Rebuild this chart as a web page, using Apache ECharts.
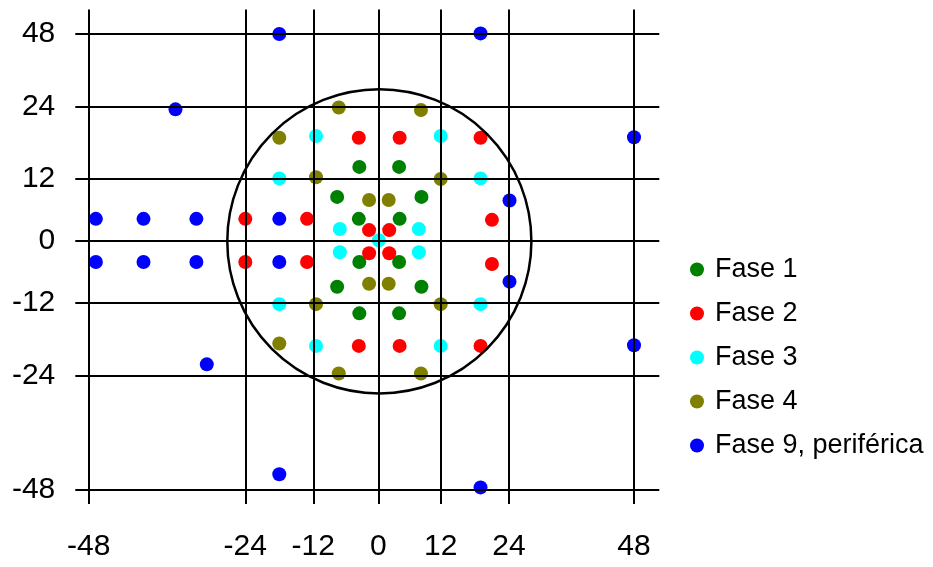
<!DOCTYPE html>
<html>
<head>
<meta charset="utf-8">
<script src="https://cdn.jsdelivr.net/npm/echarts@6/dist/echarts.min.js"></script>
<style>
  html, body { margin: 0; padding: 0; background: #fff; }
  #chart { width: 933px; height: 567px; }
</style>
</head>
<body>
<div id="chart"></div>
<script>
// ---- data (degrees) ----
const xTickLabels = [-48, -24, -12, 0, 12, 24, 48];
const yTickLabels = [-48, -24, -12, 0, 12, 24, 48];
const seriesNames = ['Fase 1', 'Fase 2', 'Fase 3', 'Fase 4', 'Fase 9, periférica'];

const fase1 = [[-3.5,14.0],[4.0,14.0],[-7.6,8.5],[8.3,8.5],[-3.6,4.2],[4.1,4.2],
  [-3.5,-4.2],[4.0,-4.2],[-7.6,-9.0],[8.3,-9.0],[-3.5,-13.8],[4.0,-13.8]];
const fase2 = [[-3.6,18.8],[4.1,18.8],[19.0,18.8],[-24,4.2],[-13.1,4.2],[21.0,4.0],
  [-1.7,2.0],[2.1,2.0],[-1.7,-2.5],[2.1,-2.5],[-24,-4.2],[-13.1,-4.2],[21.0,-4.6],
  [-3.6,-19.1],[4.1,-19.1],[19.0,-19.1]];
const fase3 = [[-11.5,19.1],[12,19.1],[-18,12.1],[19.0,12.1],[-7.1,2.2],[7.8,2.2],
  [0.1,0],[-7.1,-2.3],[7.8,-2.3],[-18,-12.3],[19.0,-12.3],[-11.5,-19.1],[12,-19.1]];
const fase4 = [[-7.3,23.8],[8.2,23.4],[-18,18.8],[-11.5,12.3],[12,12],[-1.7,7.9],[2.0,7.9],
  [-1.7,-8.4],[2.0,-8.4],[-11.5,-12.3],[12,-12.3],[-18,-18.7],[-7.3,-23.6],[8.2,-23.6]];
const fase9 = [[-18,48],[19.0,48.2],[-34.7,23.5],[48,18.9],[24.1,7.8],
  [-46.9,4.2],[-39.6,4.2],[-31.5,4.2],[-18,4.2],
  [-46.9,-4.2],[-39.6,-4.2],[-31.5,-4.2],[-18,-4.2],
  [24.1,-8.0],[48,-19.0],[-29.9,-22.1],[-18,-44.8],[19.0,-47.6]];
const circleCenter = [0.2, -0.2];
const circleEdgeX = 28.3;

// ---- layout of the non-uniform (piecewise) scale ----
const X_SCALE_POS = [-289.6, -133, -65, 0, 62.4, 130.7, 255.7];
const Y_SCALE_POS = [-249, -135.7, -62, 0, 61.3, 134, 206.3];

function warp(v, ticks, pos) {
  let i = 0;
  while (i < ticks.length - 2 && v > ticks[i + 1]) i++;
  const t = (v - ticks[i]) / (ticks[i + 1] - ticks[i]);
  return pos[i] + t * (pos[i + 1] - pos[i]);
}
const wx = v => warp(v, xTickLabels, X_SCALE_POS);
const wy = v => warp(v, yTickLabels, Y_SCALE_POS);
const toPts = arr => arr.map(p => [wx(p[0]), wy(p[1])]);

function labelFor(v, pos, labels) {
  let best = 0;
  for (let i = 1; i < pos.length; i++) if (Math.abs(pos[i] - v) < Math.abs(pos[best] - v)) best = i;
  return Math.abs(pos[best] - v) < 1 ? String(labels[best]) : '';
}

const FONT = "'Liberation Sans', Arial, Helvetica, sans-serif";
const colors = ['#008000', '#ff0000', '#00ffff', '#808000', '#0000ff'];
const datasets = [fase1, fase2, fase3, fase4, fase9];
const zs = [3, 3, 2, 3, 3];

const scatterSeries = datasets.map((d, i) => ({
  name: seriesNames[i],
  type: 'scatter',
  data: toPts(d),
  symbol: 'circle',
  symbolSize: 14,
  itemStyle: { color: colors[i], opacity: 1 },
  z: zs[i],
  silent: true,
  animation: false
}));

const gridLineSeries = {
  name: 'grid',
  type: 'line',
  data: [],
  silent: true,
  animation: false,
  markLine: {
    silent: true,
    symbol: ['none', 'none'],
    animation: false,
    z: 6,
    label: { show: false },
    lineStyle: { color: '#000', width: 2, type: 'solid' },
    emphasis: { disabled: true },
    data: xTickLabels.map(v => ({ xAxis: wx(v) })).concat(yTickLabels.map(v => ({ yAxis: wy(v) })))
  }
};

const circleSeries = {
  name: 'circle',
  type: 'custom',
  silent: true,
  animation: false,
  z: 7,
  clip: false,
  data: [[wx(circleCenter[0]), wy(circleCenter[1])]],
  encode: { x: 0, y: 1 },
  renderItem: function (params, api) {
    const c = api.coord([wx(circleCenter[0]), wy(circleCenter[1])]);
    const e = api.coord([wx(circleEdgeX), wy(circleCenter[1])]);
    return {
      type: 'circle',
      shape: { cx: c[0], cy: c[1], r: e[0] - c[0] },
      style: { fill: 'none', stroke: '#000', lineWidth: 2.5 }
    };
  }
};

const chart = echarts.init(document.getElementById('chart'), null, { renderer: 'canvas' });
chart.setOption({
  animation: false,
  backgroundColor: '#fff',
  textStyle: { fontFamily: FONT },
  grid: { left: 75.3, right: 273.7, top: 9.5, bottom: 63, containLabel: false },
  xAxis: {
    type: 'value',
    min: -303, max: 281,
    axisLine: { show: false },
    axisTick: { show: false },
    splitLine: { show: false },
    axisLabel: {
      customValues: xTickLabels.map(wx),
      formatter: v => labelFor(v, X_SCALE_POS, xTickLabels),
      color: '#000', fontSize: 30, fontFamily: FONT,
      margin: 28, showMinLabel: true, showMaxLabel: true, hideOverlap: false
    }
  },
  yAxis: {
    type: 'value',
    min: -263.7, max: 230.8,
    axisLine: { show: false },
    axisTick: { show: false },
    splitLine: { show: false },
    axisLabel: {
      customValues: yTickLabels.map(wy),
      formatter: v => labelFor(v, Y_SCALE_POS, yTickLabels),
      color: '#000', fontSize: 30, fontFamily: FONT,
      margin: 20, showMinLabel: true, showMaxLabel: true, hideOverlap: false
    }
  },
  legend: {
    data: seriesNames,
    orient: 'vertical',
    left: 685,
    top: 251,
    icon: 'circle',
    itemWidth: 26,
    itemHeight: 14,
    itemGap: 17,
    selectedMode: false,
    textStyle: { fontSize: 27, color: '#000', fontFamily: FONT }
  },
  series: scatterSeries.concat([gridLineSeries, circleSeries])
});
</script>
</body>
</html>
